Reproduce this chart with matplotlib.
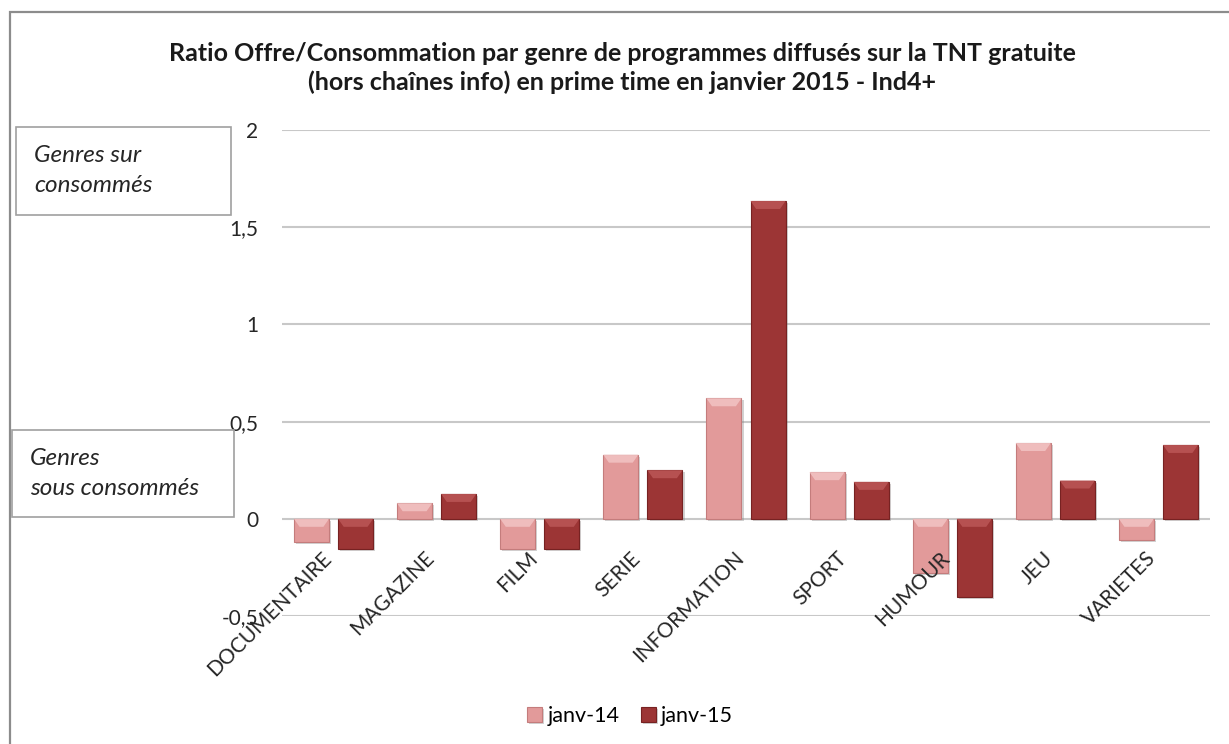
import matplotlib
matplotlib.use("Agg")
import matplotlib.pyplot as plt
import matplotlib.patheffects as pe
import numpy as np
from matplotlib.patches import Rectangle, Polygon

categories = ["DOCUMENTAIRE", "MAGAZINE", "FILM", "SERIE", "INFORMATION",
              "SPORT", "HUMOUR", "JEU", "VARIETES"]
janv14 = [-0.12, 0.08, -0.155, 0.33, 0.62, 0.24, -0.28, 0.39, -0.11]
janv15 = [-0.155, 0.128, -0.155, 0.25, 1.635, 0.19, -0.40, 0.197, 0.38]
series_names = ["janv-14", "janv-15"]
yticks = [-0.5, 0, 0.5, 1, 1.5, 2]
ytick_labels = ["-0,5", "0", "0,5", "1", "1,5", "2"]
title = ("Ratio Offre/Consommation par genre de programmes diffusés sur la TNT gratuite\n"
         "(hors chaînes info) en prime time en janvier 2015 - Ind4+")

c14, c14_hi, c14_ed = "#E29A9A", "#F1C2C2", "#C47C7C"
c15, c15_hi, c15_ed = "#9C3535", "#BA5555", "#772222"
FONT = "Lato"
plt.rcParams["font.family"] = [FONT, "DejaVu Sans"]
TXT = "#262626"

W, H = 1229, 744
fig = plt.figure(figsize=(W / 100, H / 100), dpi=100)
fig.patch.set_facecolor("white")

# outer frame
fig.add_artist(Rectangle((10 / W, -0.1), 1.2, (744 - 12) / H + 0.1, transform=fig.transFigure,
                         fill=False, edgecolor="#8C8C8C", linewidth=1.6))

ax = fig.add_axes([282 / W, (H - 616) / H, (1210 - 282) / W, (616 - 130) / H])
x = np.arange(len(categories))
bw = 0.34
off = 0.214
shadow = [pe.SimplePatchShadow(offset=(1.5, -1.5), shadow_rgbFace="#808080", alpha=0.35), pe.Normal()]
b14 = ax.bar(x - off, janv14, bw, color=c14, edgecolor=c14_ed, linewidth=0.8, zorder=3,
             label=series_names[0])
b15 = ax.bar(x + off, janv15, bw, color=c15, edgecolor=c15_ed, linewidth=0.8, zorder=3,
             label=series_names[1])
ax.set_xlim(-0.5, len(categories) - 0.5)
ax.set_ylim(-0.5, 2)

# bevel highlight at the top of each bar
ppu = ax.transData.transform((0, 1))[1] - ax.transData.transform((0, 0))[1]
bh = 8 / ppu
for bars, hi in ((b14, c14_hi), (b15, c15_hi)):
    for p in bars:
        p.set_path_effects(shadow)
        x0, w = p.get_x(), p.get_width()
        top = max(p.get_y(), p.get_y() + p.get_height())
        inset = w * 0.16
        ax.add_patch(Polygon([(x0, top), (x0 + w, top), (x0 + w - inset, top - bh),
                              (x0 + inset, top - bh)], closed=True, facecolor=hi,
                             edgecolor="none", zorder=4, alpha=0.9))

ax.set_yticks(yticks)
ax.set_yticklabels(ytick_labels, fontsize=15, color=TXT)
ax.tick_params(axis="y", length=0, pad=17)
ax.set_xticks([])
ax.grid(axis="y", color="#C8C8C8", linewidth=1.5, zorder=0)
ax.set_axisbelow(True)
for s in ax.spines.values():
    s.set_visible(False)

for i, name in enumerate(categories):
    ax.annotate(name, xy=(i, 0), xytext=(-9, -21), textcoords="offset points",
                rotation=45, ha="right", va="top", rotation_mode="anchor",
                fontsize=15, color=TXT, zorder=5)

fig.text(622 / W, 1 - 68 / H, title, ha="center", va="center", fontsize=18,
         fontweight="bold", color="#1a1a1a", linespacing=1.3)

# annotation boxes
fig.add_artist(Rectangle((16 / W, 1 - 215 / H), (231 - 16) / W, (215 - 127) / H,
                         transform=fig.transFigure, fill=False, edgecolor="#A0A0A0", linewidth=1.2))
fig.text(34 / W, 1 - 170.5 / H, "Genres sur\nconsommés", ha="left", va="center",
         fontsize=17.5, style="italic", color=TXT, linespacing=1.55)
fig.add_artist(Rectangle((12 / W, 1 - 517 / H), (234 - 12) / W, (517 - 430) / H,
                         transform=fig.transFigure, fill=False, edgecolor="#A0A0A0", linewidth=1.2))
fig.text(30 / W, 1 - 473.5 / H, "Genres\nsous consommés", ha="left", va="center",
         fontsize=17.5, style="italic", color=TXT, linespacing=1.55)

fig.legend(loc="center", bbox_to_anchor=(630 / W, 1 - 716 / H), ncol=2, frameon=False,
           fontsize=15.5, handlelength=0.7, handleheight=0.7, handletextpad=0.25,
           columnspacing=1.0)

fig.savefig("out.png", dpi=100)
